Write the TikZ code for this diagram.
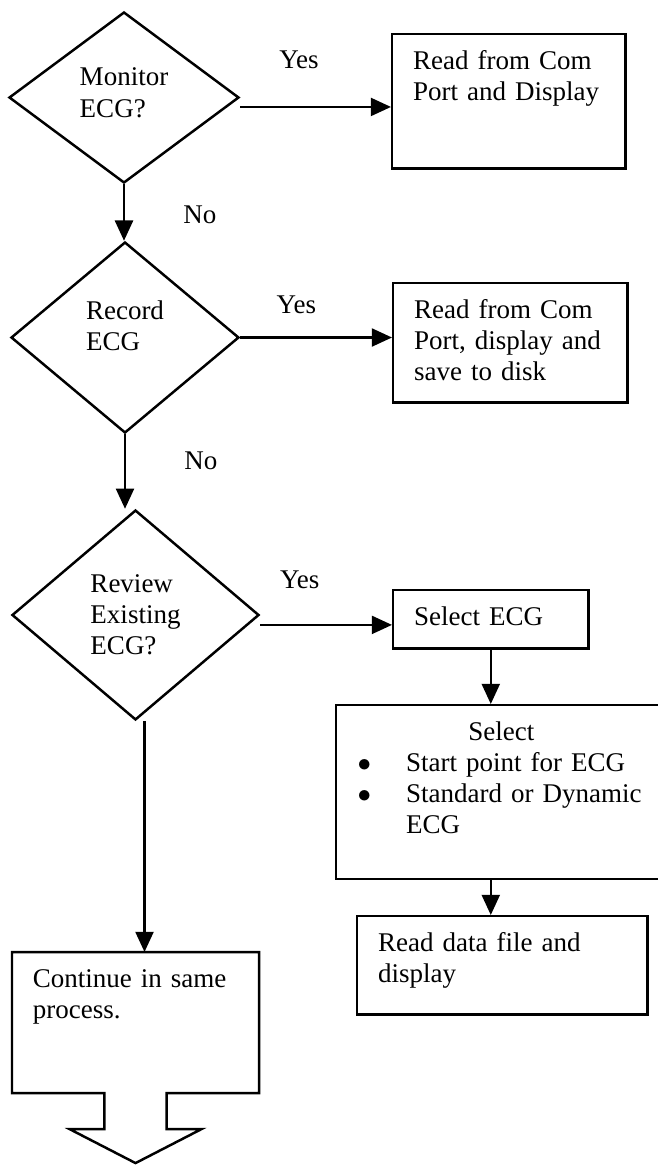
\documentclass[tikz,border=0pt]{standalone}
\usepackage{fontspec}
\setmainfont{Liberation Serif}
\usetikzlibrary{shapes.geometric,arrows.meta,positioning}

\begin{document}
\begin{tikzpicture}
	[x=0.4444pt,y=-0.4444pt,line width=1.1pt,>={Triangle[length=9pt,width=8pt]},
	font=\fontsize{12pt}{13.8pt}\selectfont,
	decision/.style={diamond, draw, align=left, inner sep=0pt},
	process/.style={rectangle, draw, align=left, anchor=north west, inner xsep=9.3pt, inner ysep=0pt, text height=15.6pt},
	answer/.style={inner sep=0pt}]
	\useasboundingbox (0,0) rectangle (658,1165);
	\node[decision, minimum width=102.2pt, minimum height=76pt, text depth=4.4pt] (d1) at (124,97.5) {Monitor\\ECG?};
	\node[decision, minimum width=101.3pt, minimum height=84.9pt, text depth=10.6pt] (d2) at (125,337.5) {Record\\ECG};
	\node[decision, minimum width=109.8pt, minimum height=93.3pt] (d3) at (135.5,615) {Review\\Existing\\ECG?};
	\node[process, text width=85pt, text depth=44pt] (b1) at (391,33) {Read from Com\\Port and Display};
	\node[process, text width=85.4pt, text depth=37.3pt] (b2) at (392,282) {Read from Com\\Port, display and\\save to disk};
	\node[process, text width=68.1pt, text depth=10.2pt] (b3) at (392,589) {Select ECG};
	\node[process, inner xsep=0pt, text width=146.7pt, text depth=61.7pt] (b4) at (335,704)
		{{\centering Select\par}\leftskip=31.1pt
		\leavevmode\llap{$\bullet$\hspace{15.6pt}}Start point for ECG\par
		\leavevmode\llap{$\bullet$\hspace{15.6pt}}Standard or Dynamic ECG\par};
	\node[process, text width=110.3pt, text depth=28pt] (b5) at (356,915) {Read data file and\\display};
	\node[process, draw=none, outer sep=0pt, text width=91.2pt, text depth=47.1pt] (cont) at (12,952) {Continue in same\\process.};

	\coordinate (a1) at ([yshift=-4.2pt]d1.east);
	\draw[->] (a1) -- (a1 -| b1.west) node[answer, pos=.39, above=16.4pt] (yes1) {Yes};
	\draw[->] (d2.east) -- (d2.east -| b2.west) node[answer, pos=.37, above=10.2pt] (yes2) {Yes};
	\coordinate (a3) at ([yshift=-4.4pt]d3.east);
	\draw[->] (a3) -- (a3 -| b3.west) node[answer, pos=.3, above=15.6pt] (yes3) {Yes};
	\draw[->] (d1.south) -- (d1.south |- d2.north) node[answer, pos=.54, right=25.8pt] (no1) {No};
	\draw[->] (d2.south) -- (d2.south |- d3.north) node[answer, pos=.35, right=25.8pt] (no2) {No};
	\draw[->] (b3.south) -- (b3.south |- b4.north);
	\draw[->] (b3.south |- b4.south) -- (b3.south |- b5.north);
	\coordinate (a4) at ([xshift=4pt]d3.south);
	\draw[->] (a4) -- (a4 |- cont.north);
	\draw ([xshift=13.8pt]cont.south) -- (cont.south east) -- (cont.north east) -- (cont.north west)
		-- (cont.south west) -- ([xshift=-13.8pt]cont.south) -- ++(0,-16pt) -- ++(-15.5pt,0)
		-- ([yshift=-31.1pt]cont.south) -- ([xshift=29.3pt,yshift=-16pt]cont.south)
		-- ([xshift=13.8pt,yshift=-16pt]cont.south) -- cycle;
\end{tikzpicture}
\end{document}
